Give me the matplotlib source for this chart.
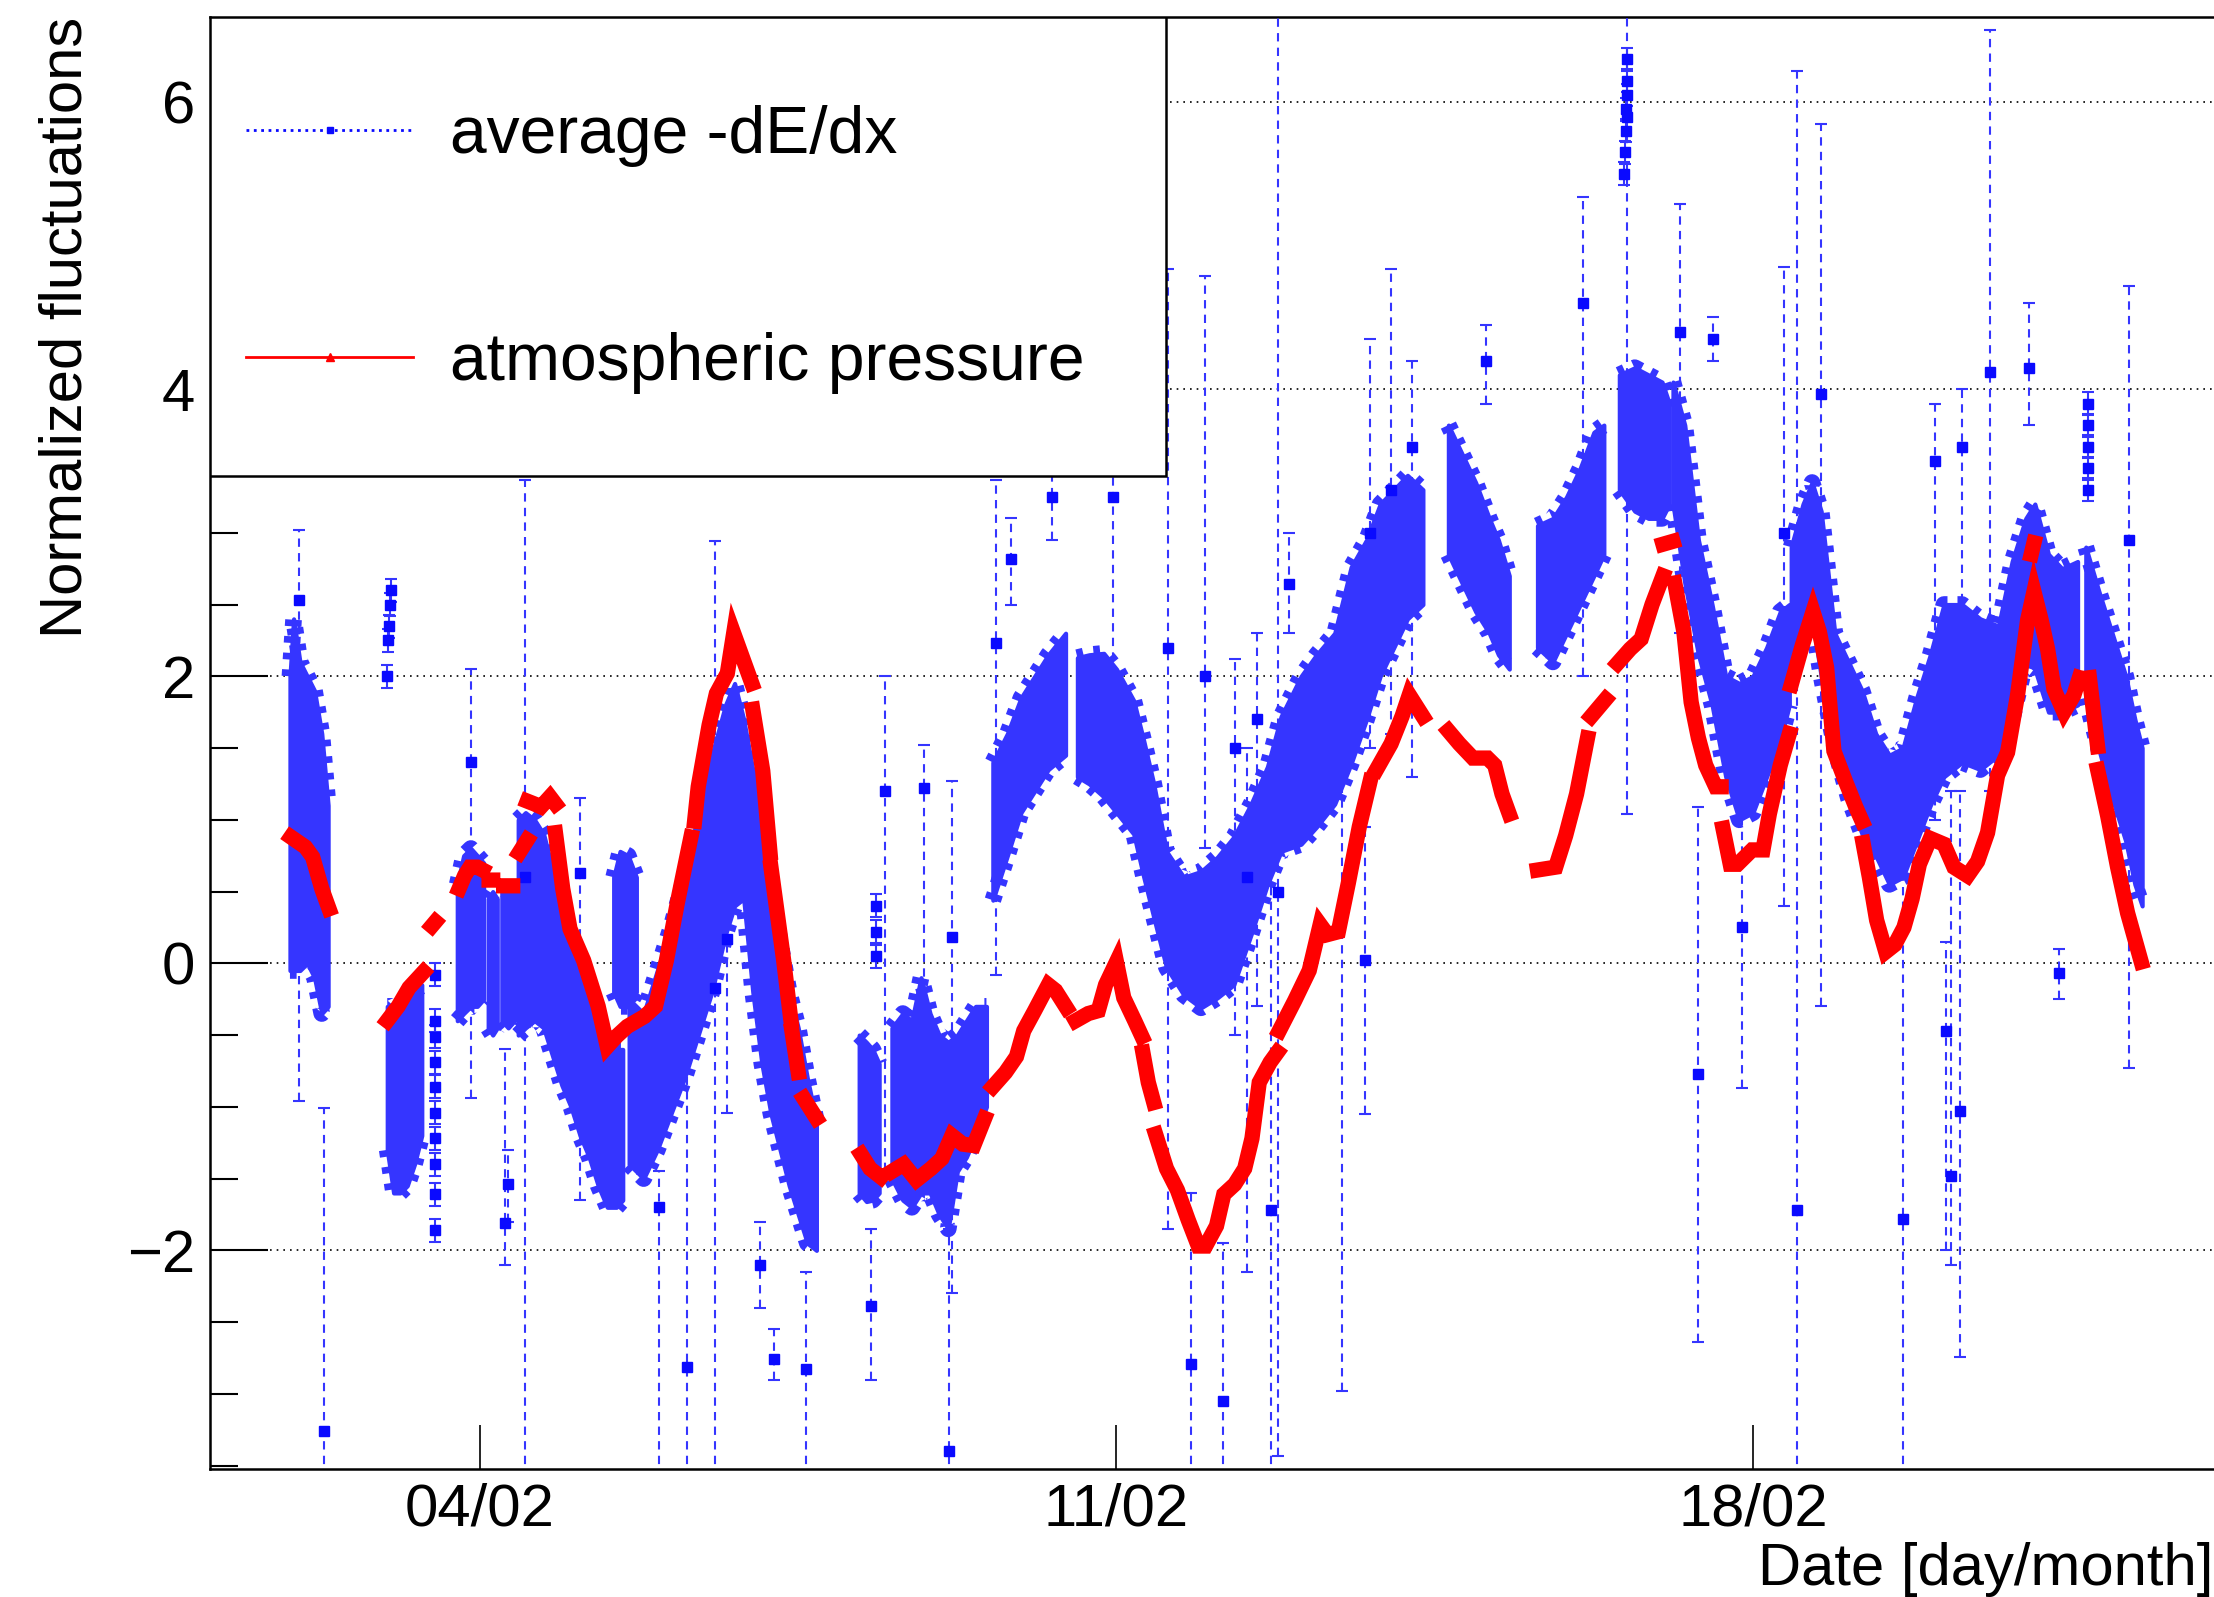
import numpy as np
import matplotlib.pyplot as plt
from matplotlib.lines import Line2D
from matplotlib.patches import Rectangle
from matplotlib.ticker import MultipleLocator, FixedLocator

plt.rcParams['font.family'] = ['Liberation Sans', 'DejaVu Sans']

# ---- average -dE/dx : dense band of points (day of February, lower/upper edge)
cloud_a_day = [1.91, 1.95, 2.02, 2.10, 2.18, 2.26, 2.33]
cloud_a_hi = [2.0, 2.4, 2.1, 2.0, 1.9, 1.6, 1.1]
cloud_a_lo = [-0.05, -0.05, -0.05, 0.0, -0.1, -0.35, -0.3]

cloud_b_day = [2.98, 3.05, 3.12, 3.20, 3.28, 3.36]
cloud_b_hi = [-0.3, -0.3, -0.25, -0.25, -0.2, -0.15]
cloud_b_lo = [-1.3, -1.6, -1.6, -1.55, -1.4, -1.2]

cloud_c_day = [3.75, 3.82, 3.90, 3.97, 4.04]
cloud_c_hi = [0.55, 0.75, 0.8, 0.75, 0.7]
cloud_c_lo = [-0.4, -0.35, -0.3, -0.3, -0.25]

cloud_c2_day = [4.09, 4.14, 4.19]
cloud_c2_hi = [0.45, 0.5, 0.45]
cloud_c2_lo = [-0.45, -0.5, -0.45]

cloud_c3_day = [4.24, 4.31, 4.38]
cloud_c3_hi = [0.5, 0.55, 0.5]
cloud_c3_lo = [-0.4, -0.45, -0.4]

cloud_d_day = [4.42, 4.50, 4.60, 4.70, 4.80, 4.90, 5.00, 5.10, 5.20, 5.30, 5.40, 5.50, 5.57]
cloud_d_hi = [1.0, 1.05, 1.0, 0.9, 0.65, 0.3, 0.1, -0.05, -0.2, -0.4, -0.55, -0.6, -0.6]
cloud_d_lo = [-0.5, -0.45, -0.4, -0.45, -0.65, -0.85, -1.0, -1.2, -1.35, -1.55, -1.7, -1.7, -1.65]

cloud_isl_day = [5.47, 5.54, 5.63, 5.72]
cloud_isl_hi = [0.6, 0.78, 0.75, 0.6]
cloud_isl_lo = [-0.2, -0.3, -0.3, -0.2]

cloud_e_day = [5.64, 5.80, 5.95, 6.10, 6.25, 6.40, 6.55, 6.70, 6.80, 6.90, 7.00, 7.10,
               7.20, 7.30, 7.40, 7.50, 7.60, 7.70]
cloud_e_hi = [-0.25, -0.35, -0.05, 0.25, 0.6, 1.05, 1.45, 1.8, 1.95, 1.7, 1.35, 0.95,
              0.55, 0.15, -0.2, -0.45, -0.8, -1.1]
cloud_e_lo = [-1.4, -1.5, -1.3, -1.05, -0.8, -0.5, -0.2, 0.2, 0.4, 0.45, -0.2, -0.7,
              -1.05, -1.3, -1.55, -1.75, -1.95, -2.0]

cloud_f_day = [8.17, 8.25, 8.32, 8.39]
cloud_f_hi = [-0.5, -0.55, -0.6, -0.7]
cloud_f_lo = [-1.6, -1.66, -1.65, -1.6]

cloud_g_day = [8.53, 8.65, 8.75, 8.85, 8.95, 9.05, 9.15, 9.25, 9.35, 9.45, 9.57]
cloud_g_hi = [-0.45, -0.35, -0.4, -0.1, -0.35, -0.5, -0.55, -0.5, -0.4, -0.3, -0.3]
cloud_g_lo = [-1.5, -1.65, -1.7, -1.6, -1.6, -1.75, -1.85, -1.45, -1.35, -1.2, -1.0]

cloud_h_day = [9.64, 9.80, 9.95, 10.10, 10.25, 10.44]
cloud_h_hi = [1.4, 1.6, 1.85, 2.0, 2.15, 2.3]
cloud_h_lo = [0.44, 0.75, 1.05, 1.2, 1.35, 1.45]

cloud_i_day = [10.57, 10.70, 10.86, 11.00, 11.19, 11.30, 11.41, 11.55, 11.74, 11.93,
               12.11, 12.29, 12.48, 12.66, 12.81, 13.03, 13.20, 13.40, 13.58, 13.75,
               13.90, 14.05, 14.20, 14.37]
cloud_i_hi = [2.13, 2.15, 2.16, 2.05, 1.83, 1.55, 1.25, 0.78, 0.6, 0.64,
              0.74, 0.88, 1.11, 1.37, 1.72, 2.0, 2.15, 2.3, 2.76, 2.95,
              3.2, 3.3, 3.4, 3.3]
cloud_i_lo = [1.3, 1.25, 1.16, 1.05, 0.9, 0.6, 0.32, -0.03, -0.22, -0.31,
              -0.24, -0.15, 0.2, 0.55, 0.78, 0.83, 0.95, 1.11, 1.39, 1.7,
              2.0, 2.2, 2.4, 2.5]

cloud_l_day = [14.65, 14.80, 14.95, 15.10, 15.20, 15.32]
cloud_l_hi = [3.75, 3.55, 3.35, 3.1, 2.95, 2.7]
cloud_l_lo = [2.85, 2.65, 2.45, 2.3, 2.15, 2.05]

cloud_m_day = [15.63, 15.80, 15.95, 16.10, 16.25, 16.36]
cloud_m_hi = [3.05, 3.1, 3.25, 3.45, 3.7, 3.75]
cloud_m_lo = [2.2, 2.1, 2.3, 2.5, 2.7, 2.85]

cloud_n_day = [16.53, 16.70, 16.85, 17.00, 17.08]
cloud_n_hi = [4.1, 4.15, 4.1, 4.05, 3.9]
cloud_n_lo = [3.3, 3.15, 3.1, 3.1, 3.2]

cloud_o_day = [17.12, 17.25, 17.40, 17.55, 17.70, 17.85, 18.00, 18.15, 18.30, 18.40]
cloud_o_hi = [4.05, 3.75, 2.95, 2.5, 2.0, 1.95, 2.0, 2.2, 2.45, 2.5]
cloud_o_lo = [3.2, 2.65, 2.15, 1.8, 1.3, 1.0, 1.05, 1.3, 1.55, 1.8]

cloud_p_day = [18.42, 18.55, 18.65, 18.75, 18.90, 19.05, 19.20, 19.35, 19.50, 19.65,
               19.80, 19.95, 20.10, 20.30, 20.50, 20.70, 20.85, 21.00, 21.10, 21.25,
               21.40, 21.57]
cloud_p_hi = [2.9, 3.2, 3.35, 3.15, 2.3, 2.1, 1.9, 1.6, 1.45, 1.5,
              1.85, 2.15, 2.5, 2.5, 2.4, 2.35, 2.8, 3.1, 3.2, 2.85,
              2.75, 2.8]
cloud_p_lo = [2.05, 2.35, 2.4, 2.0, 1.5, 1.15, 0.9, 0.75, 0.55, 0.6,
              0.85, 1.1, 1.3, 1.4, 1.35, 1.45, 1.7, 2.1, 2.05, 1.75,
              1.75, 1.8]

cloud_q_day = [21.66, 21.80, 21.95, 22.10, 22.20, 22.28]
cloud_q_hi = [2.9, 2.6, 2.3, 2.0, 1.7, 1.5]
cloud_q_lo = [1.85, 1.5, 1.15, 0.85, 0.55, 0.4]

# small groups of single points
pts_day = [2.98, 2.99, 3.00, 3.01, 3.02,
           3.50, 3.50, 3.50, 3.50, 3.50, 3.50, 3.50, 3.50, 3.50, 3.50,
           8.36, 8.36, 8.36,
           16.58, 16.59, 16.60, 16.60, 16.61, 16.61, 16.62,
           21.68, 21.68, 21.68, 21.68, 21.68]
pts_val = [2.0, 2.25, 2.35, 2.5, 2.6,
           -0.08, -0.40, -0.51, -0.69, -0.86, -1.04, -1.22, -1.40, -1.61, -1.86,
           0.4, 0.22, 0.05,
           5.5, 5.65, 5.8, 5.95, 6.05, 6.15, 6.3,
           3.3, 3.45, 3.6, 3.75, 3.9]

# isolated points with long error bars: day, value, lower end, upper end
out_day = [2.01, 2.28, 3.90, 4.28, 4.31, 4.50, 5.10, 5.97, 6.28, 6.58, 6.72, 7.08,
           7.23, 7.59, 8.30, 8.45, 8.88, 9.16, 9.19, 9.68, 9.84, 10.29, 10.96, 11.57,
           11.82, 11.97, 12.17, 12.30, 12.44, 12.55, 12.70, 12.78, 12.90, 13.48, 13.73,
           13.79, 14.02, 14.25, 15.06, 16.13, 16.61, 17.20, 17.40, 17.56, 17.88, 18.34,
           18.48, 18.75, 19.65, 20.00, 20.12, 20.18, 20.28, 20.30, 20.61, 21.04, 21.37,
           22.14]
out_val = [2.53, -3.26, 1.40, -1.81, -1.54, 0.6, 0.63, -1.70, -2.81, -0.17, 0.17, -2.1,
           -2.76, -2.83, -2.39, 1.2, 1.22, -3.40, 0.18, 2.23, 2.82, 3.25, 3.25, 2.2,
           -2.79, 2.0, -3.05, 1.5, 0.6, 1.7, -1.72, 0.5, 2.64, 0.36, 0.02,
           3.0, 3.3, 3.6, 4.2, 4.6, 5.9, 4.4, -0.77, 4.35, 0.25, 3.0,
           -1.72, 3.97, -1.78, 3.5, -0.47, -1.48, -1.03, 3.6, 4.12, 4.15, -0.07,
           2.95]
out_lo = [-0.96, -4.0, -0.94, -2.1, -1.8, -4.0, -1.65, -4.0, -4.0, -4.0, -1.04, -2.4,
          -2.9, -4.0, -2.9, -1.45, -0.5, -4.0, -2.3, -0.08, 2.5, 2.95, 1.7, -1.85,
          -4.0, 0.8, -4.0, -0.5, -2.15, -0.3, -4.0, -3.43, 2.3, -2.98, -1.05,
          1.5, 1.6, 1.3, 3.9, 2.0, 1.04, 2.3, -2.64, 4.2, -0.87, 0.4,
          -4.0, -0.3, -4.0, 1.0, -2.0, -2.1, -2.74, 1.5, 1.2, 3.75, -0.25,
          -0.73]
out_hi = [3.02, -1.01, 2.05, -0.6, -1.3, 3.37, 1.15, -1.45, -0.57, 2.94, 1.16, -1.8,
          -2.55, -2.15, -1.85, 2.0, 1.52, -1.85, 1.27, 3.37, 3.1, 3.75, 4.89, 4.84,
          -1.6, 4.79, -1.95, 2.12, 1.5, 2.3, 1.2, 6.7, 3.0, 2.25, 0.95,
          4.35, 4.84, 4.2, 4.45, 5.34, 6.7, 5.29, 1.09, 4.5, 1.8, 4.85,
          6.22, 5.85, 0.9, 3.9, 0.15, 1.2, 1.2, 4.0, 6.5, 4.6, 0.1,
          4.72]

# ---- atmospheric pressure (NaN = gap in the curve)
nan = np.nan
press_w1_day = [1.92, 2.08, 2.16, 2.26, 2.34, nan,
                2.98, 3.10, 3.22, 3.38, nan, 3.47, 3.51, nan,
                3.77, 3.83, 3.89, 3.97, 4.03, nan, 4.10, 4.14, nan, 4.26, 4.36, nan,
                4.43, 4.52, nan, 4.52, 4.60, 4.67, 4.77, 4.83, nan,
                4.83, 4.91, 4.99, 5.14, 5.30, 5.40, 5.50, 5.62, 5.81, 5.93, 6.05, 6.17, 6.32, nan,
                6.36, 6.40, 6.52, 6.60, 6.72, 6.79, 6.87, 6.99, nan,
                7.00, 7.11, 7.19, nan, 7.20, 7.34, 7.42, nan, 7.43, 7.50, nan, 7.56, 7.70]
press_w1_val = [0.88, 0.81, 0.74, 0.52, 0.38, nan,
                -0.40, -0.30, -0.17, -0.06, nan, 0.26, 0.29, nan,
                0.52, 0.61, 0.67, 0.67, 0.65, nan, 0.58, 0.58, nan, 0.54, 0.54, nan,
                0.77, 0.86, nan, 1.13, 1.11, 1.09, 1.16, 1.11, nan,
                0.91, 0.52, 0.24, 0.02, -0.30, -0.58, -0.51, -0.44, -0.37, -0.30, 0.02, 0.42, 0.88, nan,
                0.99, 1.23, 1.66, 1.88, 2.02, 2.30, 2.16, 1.95, nan,
                1.77, 1.34, 0.77, nan, 0.67, 0.02, -0.40, nan, -0.47, -0.76, nan, -0.94, -1.08]

press_w2_day = [8.19, 8.29, 8.41, nan,
                8.53, 8.66, 8.80, 8.96, 9.08, 9.19, 9.31, 9.43, 9.55, nan,
                9.64, 9.78, 9.90, 9.98, 10.10, 10.25, 10.33, 10.45, nan,
                10.55, 10.69, 10.80, 10.88, 11.00, 11.08, 11.20, 11.28, nan,
                11.29, 11.35, 11.41, nan,
                11.43, 11.55, 11.67, 11.79, 11.90, 11.98, 12.10, 12.18, 12.30, 12.41,
                12.49, 12.57, 12.69, 12.77, nan,
                12.79, 12.96, 13.12, 13.24, 13.32, 13.44, 13.55, 13.67, 13.79]
press_w2_val = [-1.33, -1.43, -1.49, nan,
                -1.45, -1.40, -1.51, -1.43, -1.36, -1.20, -1.26, -1.27, -1.08, nan,
                -0.86, -0.76, -0.65, -0.47, -0.33, -0.15, -0.19, -0.31, nan,
                -0.40, -0.35, -0.33, -0.15, 0.01, -0.24, -0.40, -0.51, nan,
                -0.62, -0.83, -0.97, nan,
                -1.19, -1.43, -1.58, -1.79, -1.97, -1.97, -1.83, -1.61, -1.54, -1.43,
                -1.22, -0.83, -0.69, -0.62, nan,
                -0.47, -0.26, -0.05, 0.27, 0.20, 0.22, 0.56, 0.95, 1.27]

press_w3_day = [13.86, 14.02, 14.14, 14.22, 14.30, 14.37, nan,
                14.65, 14.77, 14.92, 15.08, 15.16, 15.24, 15.32, nan,
                15.63, 15.83, 15.94, 16.06, 16.18, nan, 16.22, 16.38, nan,
                16.51, 16.65, 16.77, 16.89, 17.01, nan, 17.01, 17.12, nan,
                17.14, 17.24, 17.32, 17.40, 17.48, 17.59, 17.65, nan,
                17.67, 17.75, 17.83, 17.99, 18.11, 18.18, 18.30, 18.40, nan,
                18.42, 18.54, 18.66, 18.73, 18.81, 18.89, 19.01, 19.13, 19.20, nan,
                19.21, 19.28, 19.36, 19.46, 19.56, 19.66, 19.75, 19.83, 19.95, 20.10,
                20.21, 20.36, 20.47, 20.58, 20.69, 20.80, 20.91, 21.02, 21.09, 21.17,
                21.24, 21.31, 21.42, 21.53, 21.59, nan, 21.06, 21.09, nan,
                21.70, 21.79, nan, 21.79, 21.90, 22.01, 22.12, 22.27]
press_w3_val = [1.35, 1.53, 1.72, 1.87, 1.79, 1.72, nan,
                1.62, 1.53, 1.43, 1.43, 1.38, 1.18, 1.04, nan,
                0.65, 0.67, 0.89, 1.18, 1.57, nan, 1.72, 1.84, nan,
                2.09, 2.19, 2.26, 2.50, 2.70, nan, 2.92, 2.94, nan,
                2.65, 2.31, 1.82, 1.57, 1.38, 1.23, 1.23, nan,
                0.94, 0.69, 0.69, 0.79, 0.79, 1.04, 1.38, 1.60, nan,
                1.94, 2.21, 2.45, 2.31, 2.06, 1.48, 1.28, 1.09, 0.99, nan,
                0.84, 0.60, 0.30, 0.08, 0.13, 0.25, 0.45, 0.69, 0.87, 0.83,
                0.67, 0.61, 0.71, 0.91, 1.31, 1.47, 1.87, 2.39, 2.59, 2.39,
                2.19, 1.91, 1.75, 1.87, 1.99, nan, 2.85, 2.93, nan,
                1.99, 1.51, nan, 1.35, 1.03, 0.67, 0.35, 0.01]

tick_days = [4, 11, 18]
tick_labels = ['04/02', '11/02', '18/02']

cloud_segments = [
    (cloud_a_day, cloud_a_lo, cloud_a_hi), (cloud_b_day, cloud_b_lo, cloud_b_hi),
    (cloud_c_day, cloud_c_lo, cloud_c_hi), (cloud_c2_day, cloud_c2_lo, cloud_c2_hi),
    (cloud_c3_day, cloud_c3_lo, cloud_c3_hi), (cloud_d_day, cloud_d_lo, cloud_d_hi),
    (cloud_isl_day, cloud_isl_lo, cloud_isl_hi), (cloud_e_day, cloud_e_lo, cloud_e_hi),
    (cloud_f_day, cloud_f_lo, cloud_f_hi), (cloud_g_day, cloud_g_lo, cloud_g_hi),
    (cloud_h_day, cloud_h_lo, cloud_h_hi), (cloud_i_day, cloud_i_lo, cloud_i_hi),
    (cloud_l_day, cloud_l_lo, cloud_l_hi), (cloud_m_day, cloud_m_lo, cloud_m_hi),
    (cloud_n_day, cloud_n_lo, cloud_n_hi), (cloud_o_day, cloud_o_lo, cloud_o_hi),
    (cloud_p_day, cloud_p_lo, cloud_p_hi), (cloud_q_day, cloud_q_lo, cloud_q_hi),
]

blue_band = '#3535ff'
blue_pt = '#0a0aff'
font_size = 43

fig = plt.figure(figsize=(22.14, 15.97), dpi=100)
ax = fig.add_axes([0.0949, 0.0801, 0.9055, 0.9093])

for day, lo, hi in cloud_segments:
    ax.fill_between(day, lo, hi, color=blue_band, lw=3, zorder=2)
    # ragged edges: the band is made of many small error bars
    for edge in (lo, hi):
        ax.plot(day, edge, color=blue_band, lw=12, ls=(0, (0.4, 0.6)),
                solid_capstyle='butt', zorder=2)

# isolated points with dashed error bars
o_val = np.array(out_val)
yerr = [o_val - np.array(out_lo), np.array(out_hi) - o_val]
eb = ax.errorbar(out_day, out_val, yerr=yerr, fmt='s', ms=7, color=blue_pt,
                 ecolor=blue_band, elinewidth=1.5, capsize=4, capthick=1.5, zorder=3)
eb[2][0].set_linestyle((0, (4, 3)))

eb2 = ax.errorbar(pts_day, pts_val, yerr=0.08, fmt='s', ms=7, color=blue_pt,
                  ecolor=blue_band, elinewidth=1.5, capsize=4, capthick=1.5, zorder=3)
eb2[2][0].set_linestyle((0, (4, 3)))

for d, v in [(press_w1_day, press_w1_val), (press_w2_day, press_w2_val),
             (press_w3_day, press_w3_val)]:
    ax.plot(d, v, color='red', lw=11, solid_capstyle='projecting',
            solid_joinstyle='miter', zorder=4)

ax.set_xlim(1.032, 23.08)
ax.set_ylim(-3.524, 6.594)

ax.xaxis.set_major_locator(FixedLocator(tick_days))
ax.set_xticklabels(tick_labels)
ax.yaxis.set_major_locator(MultipleLocator(2))
ax.yaxis.set_minor_locator(MultipleLocator(0.5))

ax.tick_params(axis='x', which='major', direction='in', length=32, width=1.2,
               labelsize=font_size, pad=10, top=False)
ax.tick_params(axis='y', which='major', direction='in', length=42, width=1.5,
               labelsize=font_size, pad=11, right=False)
ax.tick_params(axis='y', which='minor', direction='in', length=20, width=1.5, right=False)

ax.yaxis.grid(True, which='major', color='black', ls=(0, (1, 3)), lw=1.2)
ax.set_axisbelow(True)
for sp in ax.spines.values():
    sp.set_linewidth(1.8)

ax.set_ylabel('Normalized fluctuations', fontsize=font_size, loc='top')
ax.yaxis.set_label_coords(-0.058, 1.0)
ax.set_xlabel('Date [day/month]', fontsize=font_size, loc='right')
ax.xaxis.set_label_coords(0.999, -0.050)

# legend box
ax.add_patch(Rectangle((0, 0.684), 0.477, 0.316, transform=ax.transAxes,
                       facecolor='white', edgecolor='black', lw=1.8, zorder=10))
handles = [Line2D([], [], color=blue_pt, ls=':', lw=2, marker='s', ms=5),
           Line2D([], [], color='red', lw=2, marker='^', ms=6)]
leg = ax.legend(handles, ['average -dE/dx', 'atmospheric pressure'], loc='center left',
                bbox_to_anchor=(0.0016, 0.8397), frameon=False, borderpad=0,
                handlelength=2.53, handletextpad=0.56, labelspacing=2.505, fontsize=47.5)
leg.set_zorder(11)

plt.savefig('out.png', dpi=100)
